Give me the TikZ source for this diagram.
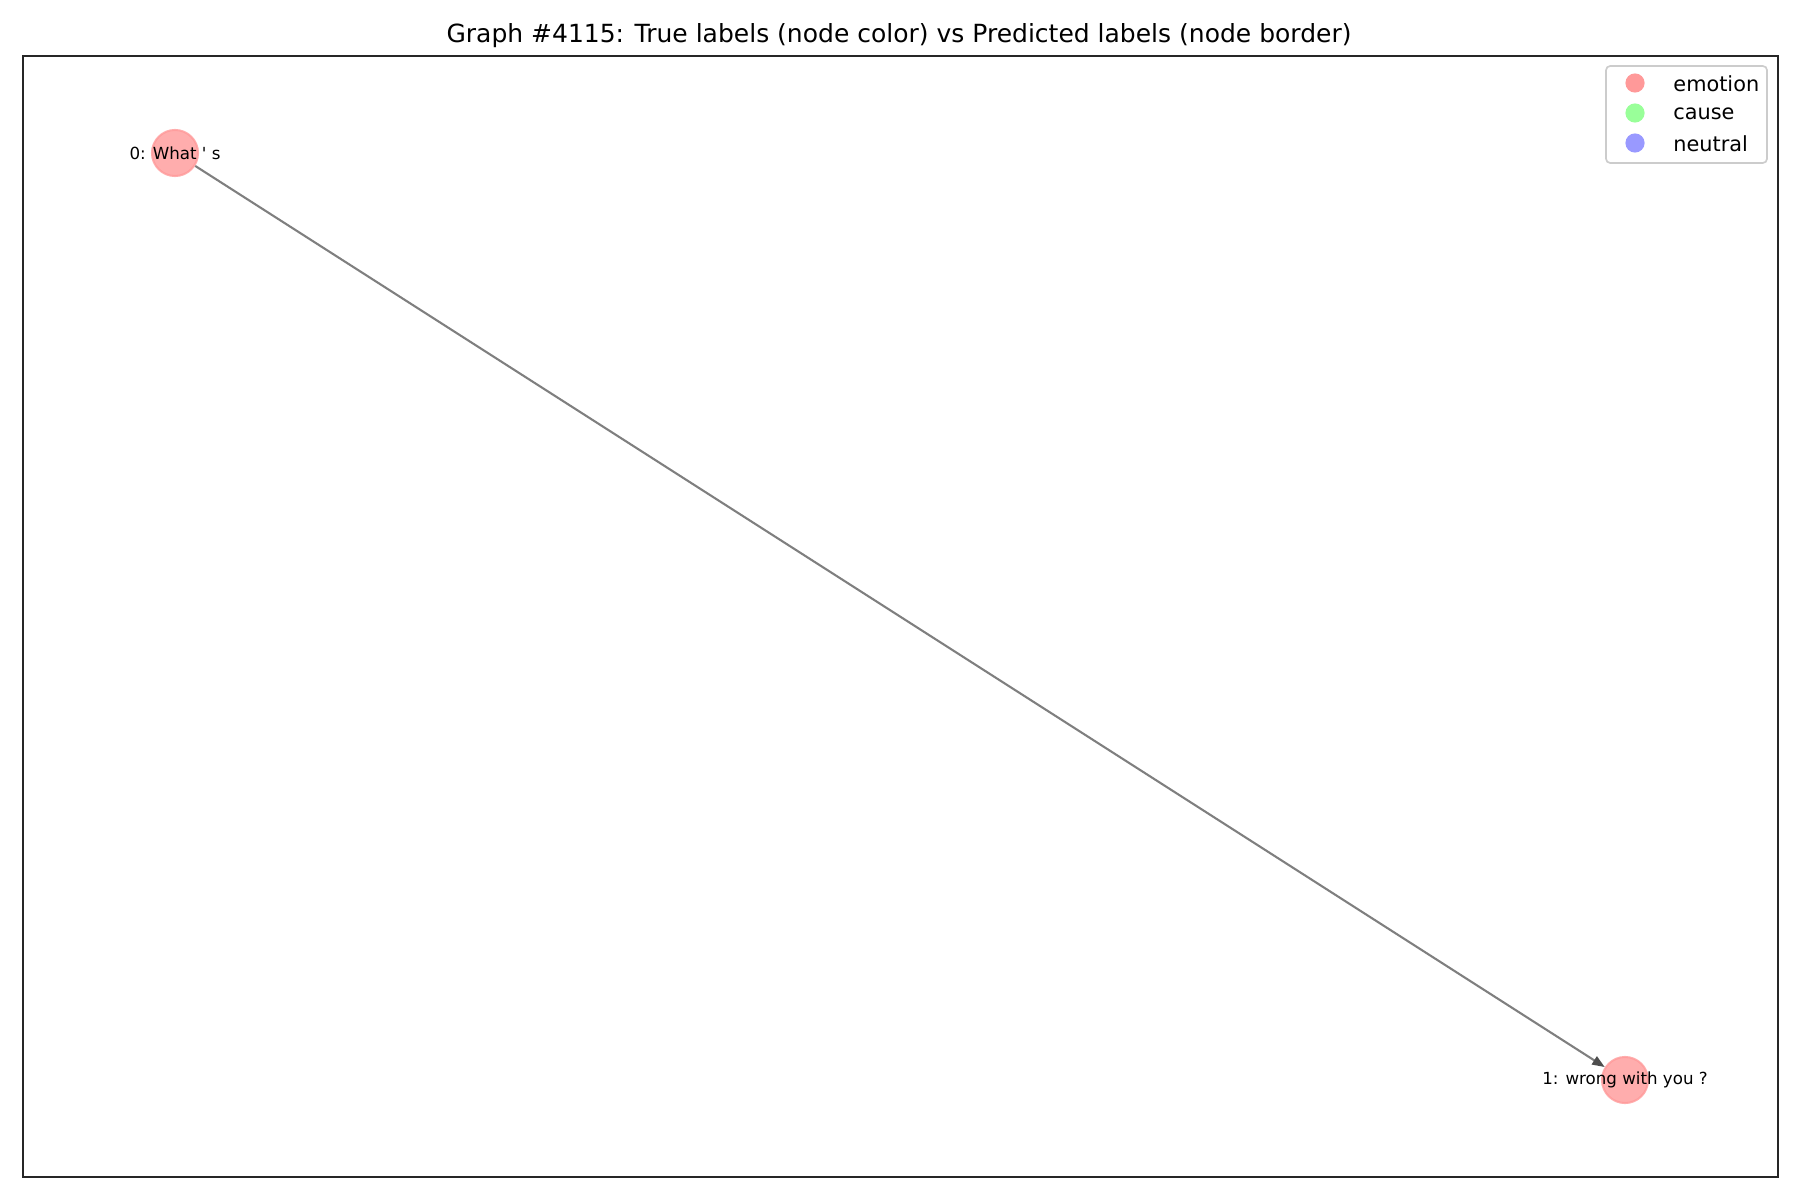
\documentclass[tikz,border=0pt]{standalone}
\usepackage{fontspec}
\setmainfont{DejaVu Sans}
\newfontfamily\lblfont{DejaVu Sans}
\usetikzlibrary{arrows.meta}
\definecolor{emo}{HTML}{FF9999}
\definecolor{cau}{HTML}{99FF99}
\definecolor{neu}{HTML}{9999FF}
\definecolor{edgegray}{HTML}{7F7F7F}
\definecolor{tipgray}{HTML}{4D4D4D}
\definecolor{legframe}{HTML}{CCCCCC}
\definecolor{frame}{HTML}{262626}
\tikzset{
  gnode/.style={circle, minimum size=22.1pt, inner sep=0pt, fill=emo, fill opacity=0.8, draw=emo, draw opacity=0.8, line width=1pt},
  glabel/.style={font=\lblfont\fontsize{8pt}{9.6pt}\selectfont, inner sep=0pt, text=black},
  gedge/.style={draw=edgegray, line width=1pt, -{Triangle[length=6pt,width=4.5pt,fill=tipgray,color=tipgray]}},
  legmark/.style={circle, minimum size=9.2pt, inner sep=0pt},
  legtext/.style={font=\fontsize{10pt}{12pt}\selectfont, anchor=west, inner sep=0pt},
}
\begin{document}
\begin{tikzpicture}[x=0.48pt, y=-0.48pt]
\useasboundingbox (0,0) rectangle (1800,1200);
% title
\node[font=\fontsize{12pt}{14.4pt}\selectfont, anchor=base, inner sep=0pt] (title) at (899,43) {Graph \#4115: True labels (node color) vs Predicted labels (node border)};
% axes frame
\draw[frame, line width=0.8pt] (23.3,56.3) rectangle (1777.7,1177.3);
% nodes
\node[gnode] (n0) at (175,153) {};
\node[gnode] (n1) at (1625,1080) {};
% edge
\draw[gedge] (n0) -- (n1);
% labels
\node[glabel] (l0) at (n0.center) {0: What ' s};
\node[glabel] (l1) at (n1.center) {1: wrong with you ?};
% legend
\draw[legframe, line width=0.8pt, rounded corners=2pt, fill=white, fill opacity=0.8] (1606,66) rectangle (1767,163);
\node[legmark, fill=emo] (m0) at (1635,83) {};
\node[legmark, fill=cau] (m1) at (1635,113) {};
\node[legmark, fill=neu] (m2) at (1635,143) {};
\node[legtext] (t0) at (1673,84) {emotion};
\node[legtext] (t1) at (1673,114) {cause};
\node[legtext] (t2) at (1673,144) {neutral};
\end{tikzpicture}
\end{document}
